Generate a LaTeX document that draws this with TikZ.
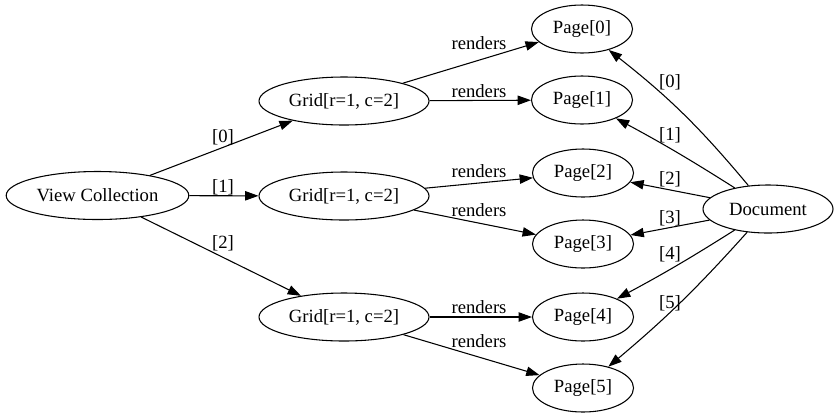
\documentclass[tikz,border=0pt]{standalone}
\usepackage{fontspec}
\setmainfont{Liberation Serif}
\usetikzlibrary{shapes.geometric,arrows.meta}
\begin{document}
\begin{tikzpicture}[x=0.75pt,y=-0.75pt,
  every node/.style={font=\fontsize{14}{16}\selectfont},
  ell/.style={draw, ellipse, inner sep=0pt, minimum height=36pt, line width=0.8pt},
  pagebox/.style={ell, minimum width=75.75pt},
  gridbox/.style={ell, minimum width=127.5pt},
  conn/.style={draw, line width=0.8pt, -{Triangle[length=10pt,width=7pt]}},
  lab/.style={inner sep=0pt}
]
\useasboundingbox (0,0) rectangle (837,419);
\node[ell, minimum width=137pt] (vc) at (97.5,195.5) {View Collection};
\node[gridbox] (g0) at (344,101) {Grid[r=1, c=2]};
\node[gridbox] (g1) at (344,196) {Grid[r=1, c=2]};
\node[gridbox] (g2) at (344,317) {Grid[r=1, c=2]};
\node[pagebox] (p0) at (582,29) {Page[0]};
\node[pagebox] (p1) at (582,100) {Page[1]};
\node[pagebox] (p2) at (583,173) {Page[2]};
\node[pagebox] (p3) at (583,244) {Page[3]};
\node[pagebox] (p4) at (583,317) {Page[4]};
\node[pagebox] (p5) at (583,388) {Page[5]};
\node[ell, minimum width=97.5pt] (doc) at (768,209) {Document};

\draw[conn] (vc) -- (g0);
\draw[conn] (vc) -- (g1);
\draw[conn] (vc) -- (g2);
\node[lab] (l0) at (223,137) {[0]};
\node[lab] (l1) at (223,187) {[1]};
\node[lab] (l2) at (223,243) {[2]};

\draw[conn] (g0) -- (p0);
\draw[conn] (g0) -- (p1);
\draw[conn] (g1) -- (p2);
\draw[conn] (g1) -- (p3);
\draw[conn] (g2) -- (p4);
\draw[conn] (g2) -- (p5);
\node[lab] (r0) at (479,43) {renders};
\node[lab] (r1) at (479,91) {renders};
\node[lab] (r2) at (479,171) {renders};
\node[lab] (r3) at (479,210) {renders};
\node[lab] (r4) at (479,307) {renders};
\node[lab] (r5) at (479,341) {renders};

\draw[conn] (doc) to[bend right=6] (p0);
\draw[conn] (doc) to[bend right=2] (p1);
\draw[conn] (doc) -- (p2);
\draw[conn] (doc) -- (p3);
\draw[conn] (doc) to[bend left=2] (p4);
\draw[conn] (doc) to[bend left=4] (p5);
\node[lab] (d0) at (670,82) {[0]};
\node[lab] (d1) at (670,135) {[1]};
\node[lab] (d2) at (670,179) {[2]};
\node[lab] (d3) at (670,218) {[3]};
\node[lab] (d4) at (670,254) {[4]};
\node[lab] (d5) at (670,303) {[5]};
\end{tikzpicture}
\end{document}
